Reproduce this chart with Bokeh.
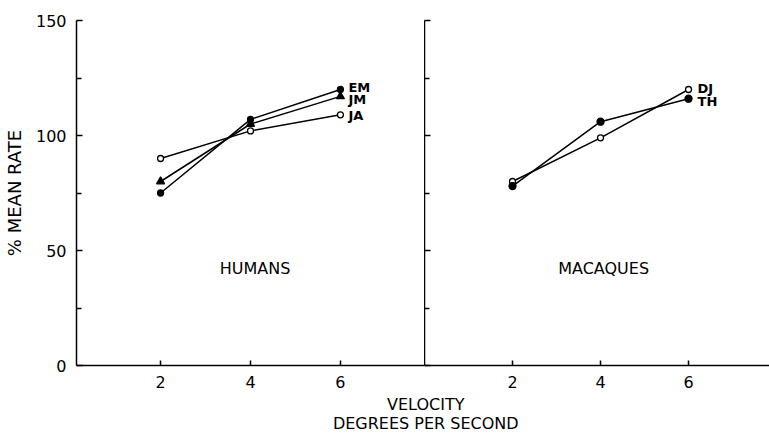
from bokeh.plotting import figure
from bokeh.models import Range1d, FixedTicker, Label
from bokeh.layouts import row, column
from bokeh.embed import file_html
from bokeh.resources import INLINE
from bokeh.core.properties import value

# ---- data ----
velocity = [2, 4, 6]
human_names = ["EM", "JM", "JA"]
em = [75, 107, 120]
jm = [80, 105, 117]
ja = [90, 102, 109]
macaque_names = ["DJ", "TH"]
dj = [80, 99, 120]
th = [78, 106, 116]
y_ticks = [0, 50, 100, 150]
y_minor_ticks = [25, 75, 125]
x_ticks = [2, 4, 6]

# label positions (y of the series name labels)
human_label_y = [121, 115.5, 108.5]
macaque_label_y = [120.5, 115]

FONT = "DejaVu Sans"
LW = 1.5


def base_fig(width, x_start, x_end, left_border, show_ylabels):
    p = figure(width=width, height=393, x_range=Range1d(x_start, x_end),
               y_range=Range1d(0, 150), output_backend="svg",
               toolbar_location=None, min_border_top=20, min_border_bottom=28,
               min_border_left=left_border, min_border_right=0)
    p.outline_line_color = None
    p.xgrid.visible = False
    p.ygrid.visible = False
    p.background_fill_color = "white"
    p.border_fill_color = "white"
    # x axis
    xa = p.xaxis[0]
    xa.ticker = FixedTicker(ticks=x_ticks)
    xa.major_tick_in = 5
    xa.major_tick_out = 0
    xa.minor_tick_in = 0
    xa.minor_tick_out = 0
    xa.axis_line_width = LW
    xa.major_tick_line_width = LW
    xa.major_label_standoff = 10
    xa.major_label_text_font = FONT
    xa.major_label_text_font_size = "16px"
    xa.major_label_text_color = "black"
    # y axis
    ya = p.yaxis[0]
    ya.ticker = FixedTicker(ticks=y_ticks, minor_ticks=y_minor_ticks)
    ya.major_tick_in = 6
    ya.major_tick_out = 0
    ya.minor_tick_in = 5
    ya.minor_tick_out = 0
    ya.axis_line_width = LW
    ya.major_tick_line_width = LW
    ya.minor_tick_line_width = LW
    if show_ylabels:
        ya.major_label_standoff = 10
        ya.major_label_text_font = FONT
        ya.major_label_text_font_size = "16px"
        ya.major_label_text_color = "black"
        ya.axis_label = "% MEAN RATE"
        ya.axis_label_text_font = FONT
        ya.axis_label_text_font_size = "18px"
        ya.axis_label_text_font_style = "normal"
        ya.axis_label_text_color = "black"
        ya.axis_label_standoff = 8
    else:
        ya.major_label_overrides = {t: "" for t in y_ticks}
        ya.major_label_standoff = 0
    return p


def series(p, ys, marker, fill, size):
    p.line(velocity, ys, line_color="black", line_width=LW)
    p.scatter(velocity, ys, marker=marker, size=size, fill_color=fill,
              line_color="black", line_width=1.3)


# ---- humans ----
p1 = base_fig(424, 0.13, 7.87, 76, True)
series(p1, em, "circle", "black", 6)
series(p1, jm, "triangle", "black", 8)
series(p1, ja, "circle", "white", 6)
p1.text(x=[velocity[-1]] * 3, y=human_label_y, text=human_names, x_offset=8,
        text_baseline="middle", text_align="left", text_font=value(FONT),
        text_font_size="13px", text_font_style="bold", text_color="black")
p1.add_layout(Label(x=4.1, y=42, text="HUMANS", text_align="center",
                    text_baseline="middle", text_font=FONT,
                    text_font_size="16px", text_color="black"))

# ---- macaques ----
p2 = base_fig(345, 0.0, 7.84, 0, False)
series(p2, dj, "circle", "white", 6)
series(p2, th, "circle", "black", 7)
p2.text(x=[velocity[-1]] * 2, y=macaque_label_y, text=macaque_names, x_offset=9,
        text_baseline="middle", text_align="left", text_font=value(FONT),
        text_font_size="13px", text_font_style="bold", text_color="black")
p2.add_layout(Label(x=4.07, y=42, text="MACAQUES", text_align="center",
                    text_baseline="middle", text_font=FONT,
                    text_font_size="16px", text_color="black"))

# ---- common x-axis caption ----
p3 = figure(width=769, height=40, x_range=Range1d(0, 1), y_range=Range1d(0, 1),
            output_backend="svg", toolbar_location=None,
            x_axis_type=None, y_axis_type=None,
            min_border=0, min_border_left=0, min_border_right=0,
            min_border_top=0, min_border_bottom=0)
p3.outline_line_color = None
p3.xgrid.visible = False
p3.ygrid.visible = False
p3.add_layout(Label(x=0.553, y=0.72, text="VELOCITY", text_align="center",
                    text_baseline="middle", text_font=FONT,
                    text_font_size="16px", text_color="black"))
p3.add_layout(Label(x=0.553, y=0.26, text="DEGREES PER SECOND", text_align="center",
                    text_baseline="middle", text_font=FONT,
                    text_font_size="16px", text_color="black"))

layout = column(row(p1, p2), p3)

with open("out.html", "w") as f:
    f.write(file_html(layout, INLINE))
